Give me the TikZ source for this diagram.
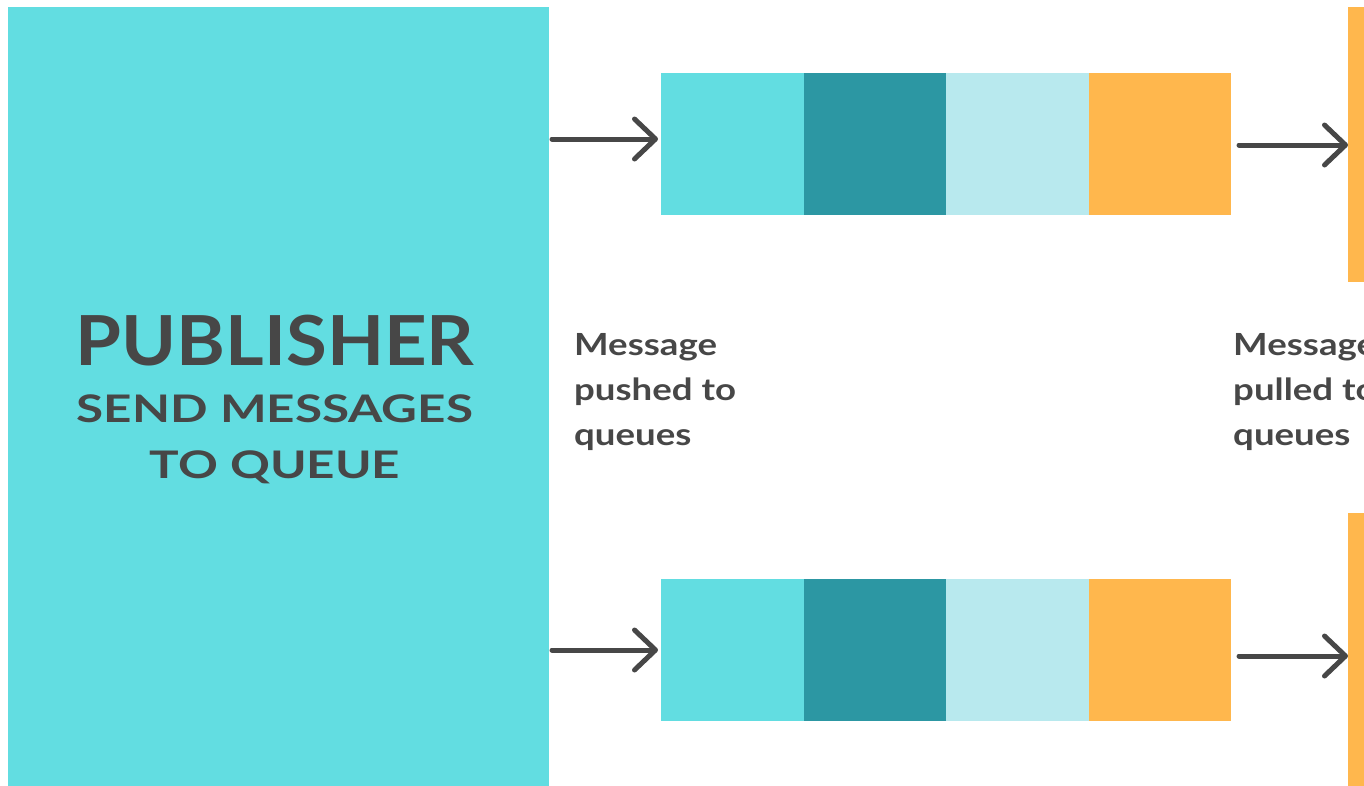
\documentclass[tikz,border=0pt]{standalone}
\usepackage{fontspec}
\setmainfont{Lato}
\newfontfamily\titlefont[FakeStretch=1.076]{Lato}
\newfontfamily\subfont[FakeStretch=1.3]{Lato}
\newfontfamily\lblfont[FakeStretch=1.2]{Lato}
\usetikzlibrary{arrows.meta,calc}
\definecolor{cyanq}{HTML}{62DDE1}
\definecolor{tealq}{HTML}{2C97A3}
\definecolor{lightq}{HTML}{B8E9EE}
\definecolor{orangeq}{HTML}{FFB74D}
\definecolor{inkq}{HTML}{474747}
\tikzset{
  cell/.style={inner sep=0pt, outer sep=0pt, minimum width=142.5pt, minimum height=142pt, anchor=north west},
  box/.style={inner sep=0pt, outer sep=0pt, anchor=north west},
  arr/.style={draw=inkq, line width=5pt, line cap=round, -{Straight Barb[length=21pt,width=40pt,line cap=round,line join=round]}},
  lbl/.style={inner sep=0pt, anchor=base west, text=inkq, font=\lblfont\fontsize{30.5}{45}\selectfont\bfseries, align=left},
  ttl/.style={inner sep=0pt, anchor=base, text=inkq},
}
\begin{document}
\begin{tikzpicture}[x=1pt,y=-1pt]
\useasboundingbox (0,0) rectangle (1364,785);
\clip (0,0) rectangle (1364,785);
% publisher
\node[box, fill=cyanq, minimum width=541pt, minimum height=790pt] (pub) at (8,7) {};
\node[ttl, font=\titlefont\fontsize{69}{69}\selectfont\bfseries] (t1) at (275,365) {PUBLISHER};
\node[ttl, font=\subfont\fontsize{38}{38}\selectfont\bfseries] (t2) at (275,422) {SEND MESSAGES};
\node[ttl, font=\subfont\fontsize{38}{38}\selectfont\bfseries] (t3) at (275,478) {TO QUEUE};
% top queue
\node[cell, fill=cyanq] (qa1) at (661,73) {};
\node[cell, fill=tealq] (qb1) at (803.5,73) {};
\node[cell, fill=lightq] (qc1) at (946,73) {};
\node[cell, fill=orangeq] (qd1) at (1088.5,73) {};
% bottom queue
\node[cell, fill=cyanq] (qa2) at (661,579) {};
\node[cell, fill=tealq] (qb2) at (803.5,579) {};
\node[cell, fill=lightq] (qc2) at (946,579) {};
\node[cell, fill=orangeq] (qd2) at (1088.5,579) {};
% subscriber bars
\node[box, fill=orangeq, minimum width=40pt, minimum height=275pt] (s1) at (1348,7) {};
\node[box, fill=orangeq, minimum width=40pt, minimum height=280pt] (s2) at (1348,513) {};
% arrows
\draw[arr] ($(pub.east |- 0,139)+(3,0)$) -- ($(qa1.west)+(-3,-5)$);
\draw[arr] ($(pub.east |- 0,650)+(3,0)$) -- ($(qa2.west)+(-3,0)$);
\draw[arr] ($(qd1.east)+(8,1)$) -- (s1.west |- 0,145);
\draw[arr] ($(qd2.east)+(8,6)$) -- (s2.west |- 0,656);
% labels
\node[lbl] (l1) at (574,445) {Message\\pushed to\\queues};
\node[lbl] (l2) at (1233,445) {Message\\pulled to\\queues};
\end{tikzpicture}
\end{document}
